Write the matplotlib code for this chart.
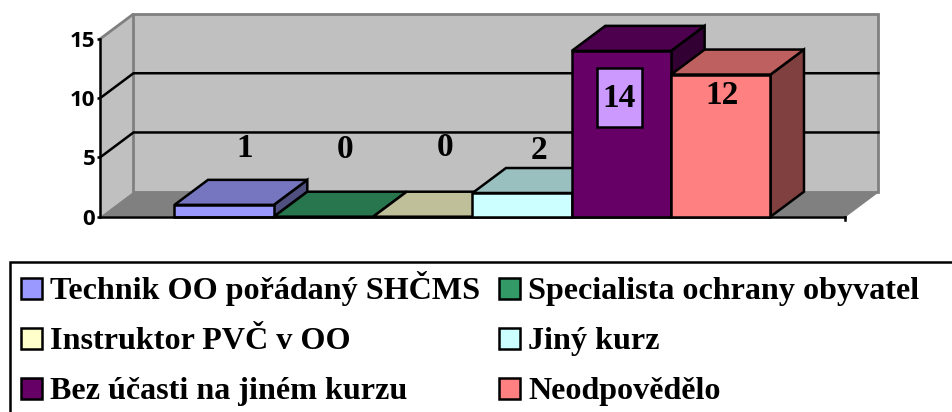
import matplotlib
matplotlib.use('Agg')
import matplotlib.pyplot as plt
from matplotlib.patches import Polygon, Rectangle

# data
categories = ['Technik OO pořádaný SHČMS', 'Specialista ochrany obyvatel', 'Instruktor PVČ v OO',
              'Jiný kurz', 'Bez účasti na jiném kurzu', 'Neodpovědělo']
values = [1, 0, 0, 2, 14, 12]
yticks = [0, 5, 10, 15]
face_colors = ['#9999ff', '#339966', '#ffffcc', '#ccffff', '#660066', '#ff8080']
top_colors = ['#7676c0', '#28764d', '#bfbf99', '#99bfbf', '#4d004d', '#bf6060']
side_colors = ['#4f4f80', '#1a4d33', '#808066', '#668080', '#330033', '#804040']

W, H = 953, 412
LW = 1.8
fig = plt.figure(figsize=(W / 100, H / 100), dpi=100)
fig.patch.set_facecolor('white')
ax = fig.add_axes([100 / W, (H - 216.7) / H, 745 / W, 177.7 / H])
ax.set_xlim(-1.25, 6.25)
ax.set_ylim(0, 15)
ax.patch.set_visible(False)
ax.spines['top'].set_visible(False)
ax.spines['right'].set_visible(False)
ax.spines['left'].set_linewidth(LW)
ax.spines['bottom'].set_linewidth(LW)
ax.set_xticks([])
ax.set_yticks(yticks)
ax.tick_params(axis='y', length=2.5, width=LW, pad=1)
for lab in ax.get_yticklabels():
    lab.set_fontfamily('Open Sans')
    lab.set_fontweight('bold')
    lab.set_fontsize(16)

# depth of the 3d box, in data units
dx, dy = 0.337, 2.11
x0, x1 = ax.get_xlim()
top = yticks[-1]


def poly(pts, fc, ec='black', lw=LW, z=2):
    ax.add_patch(Polygon(pts, closed=True, facecolor=fc, edgecolor=ec, linewidth=lw,
                         joinstyle='miter', clip_on=False, zorder=z))


# walls and floor
poly([(x0, 0), (x0 + dx, dy), (x0 + dx, top + dy), (x0, top)], '#c0c0c0', ec='none', z=1)
poly([(x0 + dx, dy), (x1 + dx, dy), (x1 + dx, top + dy), (x0 + dx, top + dy)], '#c0c0c0', ec='#808080', lw=2, z=1)
poly([(x0, top), (x0 + dx, top + dy)], 'none', ec='#808080', lw=2, z=1)
poly([(x0, 0), (x0 + dx, dy), (x1 + dx, dy), (x1, 0)], '#808080', ec='none', z=1)
ax.plot([x1, x1 + dx], [0, dy], color='#808080', lw=1, clip_on=False, zorder=1)
ax.plot([x1, x1], [0, -0.25], color='black', lw=LW, clip_on=False, zorder=1)

# gridlines run along the wall
for t in yticks[1:-1]:
    ax.plot([x0, x0 + dx, x1 + dx], [t, t + dy, t + dy], color='black', lw=LW,
            clip_on=False, zorder=1, solid_joinstyle='miter')

# bars, left to right so each one covers the side of the one before
w = 0.5
for i, v in enumerate(values):
    l, r = i - w, i + w
    poly([(r, 0), (r + dx, dy), (r + dx, v + dy), (r, v)], side_colors[i], z=2 + i)
    poly([(l, v), (l + dx, v + dy), (r + dx, v + dy), (r, v)], top_colors[i], z=2 + i)
    poly([(l, 0), (r, 0), (r, v), (l, v)], face_colors[i], z=2 + i)

# value labels, offsets from the bar tops
label_x = [0.21, 0.22, 0.22, 0.17, -0.02, 0.01]
label_y = [4.75, 5.7, 5.85, 3.6, -4.05, -1.75]
for i, v in enumerate(values):
    lx, ly = i + label_x[i], v + label_y[i]
    if i == 4:
        ax.add_patch(Rectangle((lx - 0.23, ly - 2.39), 0.46, 4.98, facecolor='#cc99ff',
                               edgecolor='black', linewidth=LW, zorder=19, clip_on=False))
    ax.text(lx, ly, str(v), ha='center', va='center', family='Liberation Serif', weight='bold',
            fontsize=24, zorder=20, clip_on=False)

# legend, drawn on its own pixel axes because the box runs off the picture
lg = fig.add_axes([0, 0, 1, 1])
lg.set_xlim(0, W)
lg.set_ylim(H, 0)
lg.axis('off')
lg.patch.set_visible(False)
lg.plot([10.5, 10.5, W + 5], [H + 5, 262, 262], color='black', lw=LW, clip_on=True,
        solid_joinstyle='miter')
col_x = [20, 498]
row_y = [288, 338, 388]
for i, name in enumerate(categories):
    cx = col_x[i % 2]
    cy = row_y[i // 2]
    lg.add_patch(Rectangle((cx + 1, cy - 10.5), 21, 21, facecolor=face_colors[i],
                           edgecolor='black', linewidth=LW))
    lg.text(cx + 30, cy + 11, name, va='baseline', ha='left', family='Liberation Serif',
            weight='bold', fontsize=23.1)

fig.savefig('out.png', dpi=100)
